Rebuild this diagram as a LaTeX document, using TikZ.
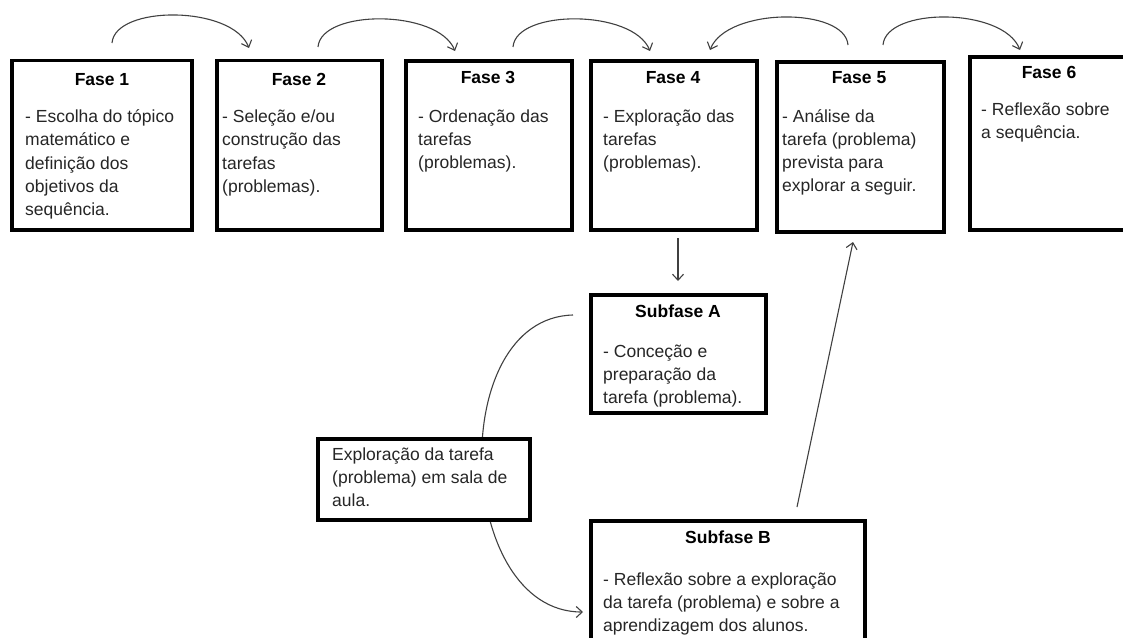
\documentclass[tikz,border=0pt]{standalone}
\usepackage{fontspec}
\setmainfont{Liberation Sans}
\usetikzlibrary{arrows.meta}
\begin{document}
\begin{tikzpicture}[x=1pt,y=-1pt,
 phase/.style={draw=black, line width=3.5pt, fill=white, inner sep=0pt, outer sep=0pt, anchor=north west},
 ttl/.style={font=\fontsize{17.5}{23.3}\selectfont\bfseries, anchor=base, inner sep=0pt, text=black},
 body/.style={font=\fontsize{17.5}{23.3}\selectfont, anchor=base west, inner sep=0pt, text=black!85},
 conn/.style={draw=black!75, line width=1.1pt, -{Straight Barb[length=6pt,width=11pt]}}]
\useasboundingbox (0,0) rectangle (1123,637);

% free connector ends
\coordinate (a1s) at (112,43);  \coordinate (a1e) at (249,48);
\coordinate (a2s) at (318,47);  \coordinate (a2e) at (455,51);
\coordinate (a3s) at (513,47);  \coordinate (a3e) at (650,51);
\coordinate (a4s) at (848,45);  \coordinate (a4e) at (710,50);
\coordinate (a5s) at (883,45);  \coordinate (a5e) at (1020,50);
\coordinate (vs) at (678,238);  \coordinate (ve) at (678,281);
\coordinate (cs) at (573,315);  \coordinate (ce) at (583,612);
\coordinate (ls) at (797,507);  \coordinate (le) at (853,242);

% connectors
\draw[conn] (a1s) .. controls (115,5) and (232,5) .. (a1e);
\draw[conn] (a2s) .. controls (321,9) and (438,9) .. (a2e);
\draw[conn] (a3s) .. controls (516,9) and (633,9) .. (a3e);
\draw[conn] (a4s) .. controls (845,7) and (727,7) .. (a4e);
\draw[conn] (a5s) .. controls (886,7) and (1003,7) .. (a5e);
\draw[conn] (vs) -- (ve);
\draw[conn] (cs) .. controls (445,318) and (455,612) .. (ce);
\draw[conn] (ls) -- (le);

% boxes
\node[phase, minimum width=180pt, minimum height=169.5pt] (f1) at (12,60.5) {};
\node[phase, minimum width=165pt, minimum height=169.5pt] (f2) at (217,60.5) {};
\node[phase, minimum width=166pt, minimum height=169pt] (f3) at (406,61) {};
\node[phase, minimum width=166pt, minimum height=169pt] (f4) at (591,61) {};
\node[phase, minimum width=167pt, minimum height=170pt] (f5) at (777,62) {};
\node[phase, minimum width=165pt, minimum height=173pt] (f6) at (970,57) {};
\node[phase, minimum width=175pt, minimum height=118pt] (sa) at (591,295) {};
\node[phase, minimum width=212pt, minimum height=81pt] (ex) at (318,439) {};
\node[phase, minimum width=274pt, minimum height=140pt] (sb) at (591,521) {};

% texts
\node[ttl] (f1t) at (102,85) {Fase 1};
\node[body] (f1b) at (25,122.5) {\parbox[t]{170pt}{- Escolha do tópico\\matemático e\\definição dos\\objetivos da\\sequência.}};
\node[ttl] (f2t) at (299,85) {Fase 2};
\node[body] (f2b) at (222,122.5) {\parbox[t]{160pt}{- Seleção e/ou\\construção das\\tarefas\\(problemas).}};
\node[ttl] (f3t) at (488,83) {Fase 3};
\node[body] (f3b) at (418,122) {\parbox[t]{160pt}{- Ordenação das\\tarefas\\(problemas).}};
\node[ttl] (f4t) at (673,83) {Fase 4};
\node[body] (f4b) at (603,122) {\parbox[t]{160pt}{- Exploração das\\tarefas\\(problemas).}};
\node[ttl] (f5t) at (859,83) {Fase 5};
\node[body] (f5b) at (782,122) {\parbox[t]{165pt}{- Análise da\\tarefa (problema)\\prevista para\\explorar a seguir.}};
\node[ttl] (f6t) at (1049,78) {Fase 6};
\node[body] (f6b) at (981,115) {\parbox[t]{150pt}{- Reflexão sobre\\a sequência.}};
\node[ttl] (sat) at (678,317) {Subfase A};
\node[body] (sab) at (603,357) {\parbox[t]{165pt}{- Conceção e\\preparação da\\tarefa (problema).}};
\node[body] (exb) at (332,460) {\parbox[t]{200pt}{Exploração da tarefa\\(problema) em sala de\\aula.}};
\node[ttl] (sbt) at (728,543) {Subfase B};
\node[body] (sbb) at (603,585) {\parbox[t]{265pt}{- Reflexão sobre a exploração\\da tarefa (problema) e sobre a\\aprendizagem dos alunos.}};
\end{tikzpicture}
\end{document}
